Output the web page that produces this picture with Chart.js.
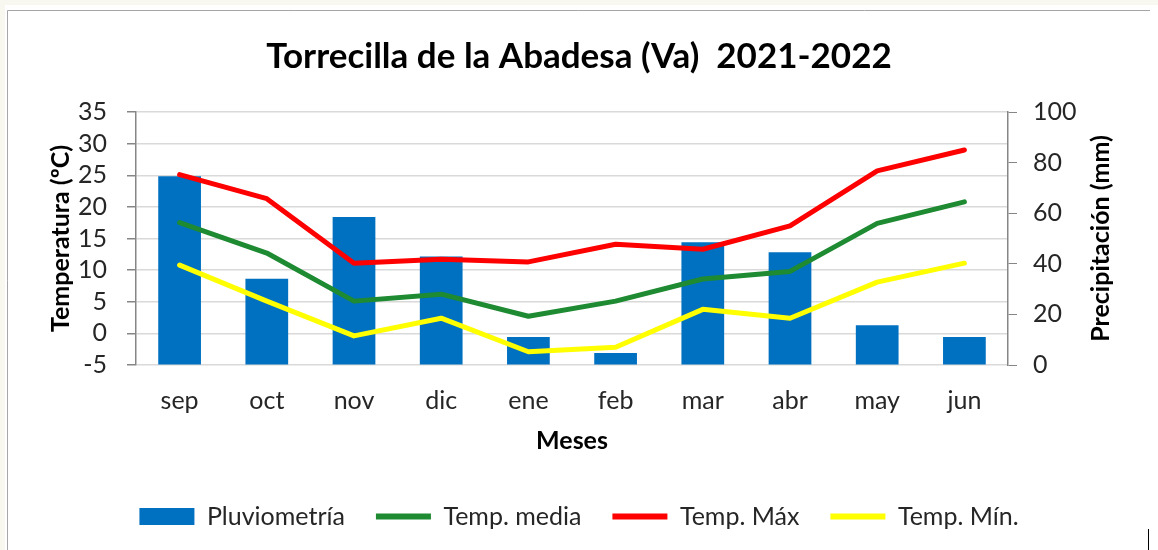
<!DOCTYPE html>
<html lang="es">
<head>
    <meta charset="UTF-8">
    <title>Torrecilla de la Abadesa (Va) 2021-2022</title>
    <script src="https://cdn.jsdelivr.net/npm/chart.js"></script>
    <style>
        body { margin: 0; background: #fff; }
        canvas { display: block; }
    </style>
</head>
<body>
    <canvas id="myChart" width="1158" height="550"></canvas>

    <script>
        // datos
        const meses = ['sep', 'oct', 'nov', 'dic', 'ene', 'feb', 'mar', 'abr', 'may', 'jun'];
        const pluviometria = [74.6, 34.1, 58.5, 42.9, 11.1, 4.7, 48.5, 44.6, 15.7, 11.1];
        const tempMedia = [17.5, 12.7, 5.1, 6.2, 2.7, 5.1, 8.6, 9.8, 17.4, 20.8];
        const tempMax = [25.1, 21.3, 11.1, 11.7, 11.3, 14.1, 13.3, 17.0, 25.7, 29.0];
        const tempMin = [10.8, 5.1, -0.4, 2.4, -2.9, -2.2, 3.8, 2.4, 8.1, 11.1];

        const FONT = 'Lato, "Open Sans", sans-serif';

        // fondo, marco y titulo del eje derecho
        const marco = {
            id: 'marco',
            beforeDraw(chart) {
                const c = chart.ctx;
                c.save();
                c.fillStyle = '#fff';
                c.fillRect(0, 0, chart.width, chart.height);
                c.fillStyle = '#f8f8f0';
                c.fillRect(0, 0, chart.width, 5);
                c.fillRect(0, 0, 5, chart.height);
                c.strokeStyle = '#a6a6a6';
                c.lineWidth = 1;
                c.beginPath();
                c.moveTo(7.5, 551);
                c.lineTo(7.5, 10.5);
                c.lineTo(1150, 10.5);
                c.stroke();
                c.strokeStyle = '#000';
                c.beginPath();
                c.moveTo(1148.5, 529);
                c.lineTo(1148.5, 550);
                c.stroke();
                c.restore();
            },
            afterDraw(chart) {
                const c = chart.ctx;
                const a = chart.chartArea;
                c.save();
                c.translate(1101, (a.top + a.bottom) / 2);
                c.rotate(-Math.PI / 2);
                c.font = 'bold 25px ' + FONT;
                c.fillStyle = '#000';
                c.textAlign = 'center';
                c.textBaseline = 'middle';
                c.fillText('Precipitación (mm)', 0, 0);
                c.restore();
            }
        };

        const data = {
            labels: meses,
            datasets: [
                {
                    type: 'bar',
                    label: 'Pluviometría',
                    data: pluviometria,
                    backgroundColor: '#0070c0',
                    borderWidth: 0,
                    yAxisID: 'y2',
                    order: 1,
                    categoryPercentage: 1,
                    barPercentage: 0.49
                },
                {
                    type: 'line',
                    label: 'Temp. media',
                    data: tempMedia,
                    borderColor: '#1e8a32',
                    backgroundColor: '#1e8a32',
                    borderWidth: 5,
                    pointRadius: 0,
                    yAxisID: 'y',
                    order: 0
                },
                {
                    type: 'line',
                    label: 'Temp. Máx',
                    data: tempMax,
                    borderColor: '#ff0000',
                    backgroundColor: '#ff0000',
                    borderWidth: 5,
                    pointRadius: 0,
                    yAxisID: 'y',
                    order: 0
                },
                {
                    type: 'line',
                    label: 'Temp. Mín.',
                    data: tempMin,
                    borderColor: '#ffff00',
                    backgroundColor: '#ffff00',
                    borderWidth: 5,
                    pointRadius: 0,
                    yAxisID: 'y',
                    order: 0
                }
            ]
        };

        const options = {
            responsive: false,
            animation: false,
            layout: { padding: { left: 0, right: 0, top: 0, bottom: 11 } },
            elements: { line: { borderCapStyle: 'round', borderJoinStyle: 'round' } },
            plugins: {
                tooltip: { enabled: false },
                title: {
                    display: true,
                    text: 'Torrecilla de la Abadesa (Va)  2021-2022',
                    color: '#000',
                    font: { family: FONT, size: 35, weight: 'bold' },
                    padding: { top: 36, bottom: 34 }
                },
                legend: {
                    position: 'bottom',
                    labels: {
                        color: '#262626',
                        font: { family: FONT, size: 25 },
                        usePointStyle: true,
                        pointStyleWidth: 55,
                        boxHeight: 17,
                        padding: 31,
                        sort: (a, b) => a.datasetIndex - b.datasetIndex,
                        generateLabels: (chart) => {
                            const items = Chart.defaults.plugins.legend.labels.generateLabels(chart);
                            return items.map((it) => {
                                it.pointStyle = it.datasetIndex === 0 ? 'rect' : 'line';
                                if (it.datasetIndex > 0) it.lineWidth = 6;
                                return it;
                            });
                        }
                    }
                }
            },
            scales: {
                x: {
                    grid: { display: false, drawTicks: false },
                    border: { display: false },
                    ticks: { color: '#262626', font: { family: FONT, size: 25 }, padding: 21 },
                    title: {
                        display: true,
                        text: 'Meses',
                        color: '#000',
                        font: { family: FONT, size: 25, weight: 'bold' },
                        padding: { top: 0, bottom: 17 }
                    },
                    afterFit: (s) => { s.height = 108; }
                },
                y: {
                    position: 'left',
                    min: -5,
                    max: 35,
                    ticks: { stepSize: 5, autoSkip: false, color: '#262626', font: { family: FONT, size: 25 }, padding: 20 },
                    grid: { color: '#d9d9d9', tickColor: '#868686', tickLength: 9, lineWidth: 1.5 },
                    border: { color: '#868686', width: 1.5 },
                    title: {
                        display: true,
                        text: 'Temperatura (ºC)',
                        color: '#000',
                        font: { family: FONT, size: 25, weight: 'bold' },
                        padding: { top: 46, bottom: 0 }
                    },
                    afterFit: (s) => { s.width = 136; }
                },
                y2: {
                    position: 'right',
                    min: 0,
                    max: 100,
                    ticks: { stepSize: 20, autoSkip: false, color: '#262626', font: { family: FONT, size: 25 }, padding: 16 },
                    grid: { drawOnChartArea: false, tickColor: '#868686', tickLength: 9 },
                    border: { color: '#868686', width: 1.5 },
                    afterFit: (s) => { s.width = 150; }
                }
            }
        };

        const ctx = document.querySelector('#myChart').getContext('2d');
        const myChart = new Chart(ctx, {
            data: data,
            options: options,
            plugins: [marco]
        });
    </script>
</body>
</html>
